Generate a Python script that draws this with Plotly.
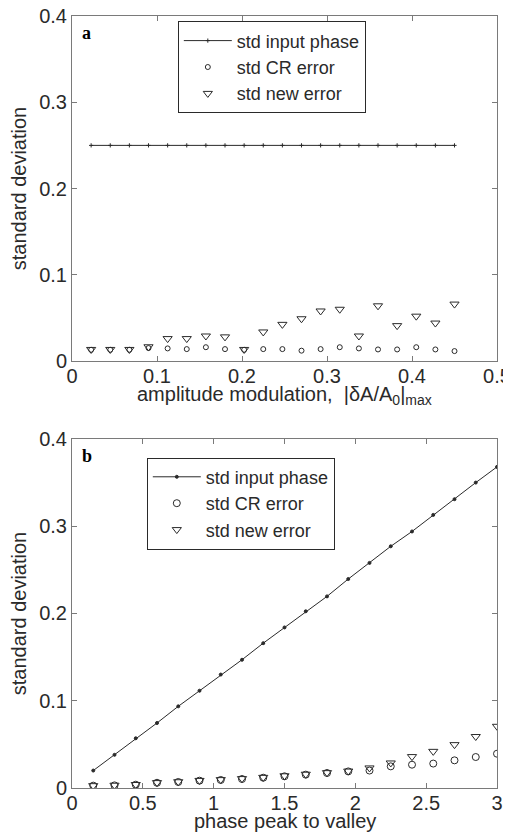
import plotly.graph_objects as go
from plotly.subplots import make_subplots

# panel a: amplitude modulation sweep
amp_x = [0.0225, 0.045, 0.0675, 0.09, 0.1125, 0.135, 0.1575, 0.18, 0.2025, 0.225,
         0.2475, 0.27, 0.2925, 0.315, 0.3375, 0.36, 0.3825, 0.405, 0.4275, 0.45]
amp_input = [0.25, 0.25, 0.25, 0.25, 0.25, 0.25, 0.25, 0.25, 0.25, 0.25,
             0.25, 0.25, 0.25, 0.25, 0.25, 0.25, 0.25, 0.25, 0.25, 0.25]
amp_cr = [0.013, 0.013, 0.013, 0.015, 0.0146, 0.0138, 0.016, 0.0138, 0.013, 0.0138,
          0.0138, 0.012, 0.0138, 0.016, 0.0146, 0.0134, 0.0134, 0.016, 0.0134, 0.0115]
amp_new = [0.0134, 0.0134, 0.0134, 0.0165, 0.026, 0.026, 0.029, 0.028, 0.0134, 0.0337,
           0.0425, 0.049, 0.058, 0.060, 0.029, 0.064, 0.041, 0.052, 0.044, 0.066]

# panel b: phase peak-to-valley sweep
phase_x = [0.15, 0.3, 0.45, 0.6, 0.75, 0.9, 1.05, 1.2, 1.35, 1.5,
           1.65, 1.8, 1.95, 2.1, 2.25, 2.4, 2.55, 2.7, 2.85, 3.0]
phase_input = [0.020, 0.038, 0.057, 0.0745, 0.0936, 0.1115, 0.130, 0.147, 0.166, 0.184,
               0.2025, 0.2196, 0.2395, 0.258, 0.277, 0.294, 0.313, 0.331, 0.350, 0.368]
phase_cr = [0.0027, 0.003, 0.0038, 0.006, 0.0069, 0.0084, 0.0092, 0.0103, 0.0118, 0.0134,
            0.0153, 0.0172, 0.019, 0.020, 0.0248, 0.0267, 0.028, 0.0317, 0.0355, 0.0393]
phase_new = [0.0027, 0.0032, 0.004, 0.0062, 0.0072, 0.0087, 0.0096, 0.0108, 0.0122, 0.0140,
             0.0158, 0.0176, 0.0194, 0.023, 0.0287, 0.036, 0.042, 0.0497, 0.059, 0.0707]

series_names = ["std input phase", "std CR error", "std new error"]

INK = "#2a2a2a"
AXIS = "#7a7a7a"
FONT = "Liberation Sans, Arial, sans-serif"

fig = make_subplots(rows=2, cols=1)


def add_panel(row, x, inp, cr, new, legend, circle_size, input_symbol):
    fig.add_trace(go.Scatter(
        x=x, y=inp, name=series_names[0], mode="lines+markers", legend=legend,
        line=dict(color=INK, width=1),
        marker=dict(symbol=input_symbol, size=3, color=INK, line=dict(color=INK, width=1)),
    ), row=row, col=1)
    fig.add_trace(go.Scatter(
        x=x, y=cr, name=series_names[1], mode="markers", legend=legend,
        marker=dict(symbol="circle-open", size=circle_size, color=INK, line=dict(width=1)),
    ), row=row, col=1)
    fig.add_trace(go.Scatter(
        x=x, y=new, name=series_names[2], mode="markers", legend=legend,
        marker=dict(symbol="triangle-down-open", size=8, color=INK, line=dict(width=1)),
    ), row=row, col=1)


add_panel(1, amp_x, amp_input, amp_cr, amp_new, "legend", 5, "cross-thin")
add_panel(2, phase_x, phase_input, phase_cr, phase_new, "legend2", 7, "circle")

axis_style = dict(
    showline=True, mirror="ticks", linecolor=AXIS, linewidth=1,
    ticks="inside", ticklen=5, tickcolor=AXIS,
    showgrid=False, zeroline=False, automargin=False,
    ticklabeloverflow="allow",
    tickfont=dict(size=20, color=INK, family=FONT),
    title_font=dict(size=20, color=INK, family=FONT),
)

fig.update_xaxes(**axis_style)
fig.update_yaxes(**axis_style)

fig.update_xaxes(range=[0, 0.5], tickvals=[0, 0.1, 0.2, 0.3, 0.4, 0.5],
                 ticktext=["0", "0.1", "0.2", "0.3", "0.4", "0.5"],
                 ticklabelstandoff=-3, row=1, col=1)
fig.update_xaxes(range=[0, 3], tickvals=[0, 0.5, 1, 1.5, 2, 2.5, 3],
                 ticktext=["0", "0.5", "1", "1.5", "2", "2.5", "3"],
                 ticklabelstandoff=-3, row=2, col=1)
fig.update_yaxes(range=[0, 0.4], tickvals=[0, 0.1, 0.2, 0.3, 0.4],
                 ticktext=["0", "0.1", "0.2", "0.3", "0.4"],
                 title_text="standard deviation", title_standoff=8)

# the page body adds an 8px offset, so the figure is 8px smaller than the window
fig.update_layout(
    width=503, height=826,
    margin=dict(l=64, r=14, t=8, b=46),
    paper_bgcolor="white", plot_bgcolor="white",
    font=dict(family=FONT, size=20, color=INK),
    xaxis=dict(domain=[0, 1]), yaxis=dict(domain=[0.5531, 1]),
    xaxis2=dict(domain=[0, 1]), yaxis2=dict(domain=[0, 0.4521]),
    legend=dict(x=0.249, y=0.993, xanchor="left", yanchor="top",
                bordercolor=INK, borderwidth=1, bgcolor="white",
                font=dict(size=18, color=INK, family=FONT),
                itemwidth=48, tracegroupgap=0),
    legend2=dict(x=0.176, y=0.428, xanchor="left", yanchor="top",
                 bordercolor=INK, borderwidth=1, bgcolor="white",
                 font=dict(size=18, color=INK, family=FONT),
                 itemwidth=48, tracegroupgap=0),
    showlegend=True,
)

# x-axis titles sit close under the tick labels, as in the original
x_titles = [("x domain", "y domain", "amplitude modulation,  |δA/A<sub>0</sub>|<sub>max</sub>"),
            ("x2 domain", "y2 domain", "phase peak to valley")]
for xr, yr, txt in x_titles:
    fig.add_annotation(text=txt, xref=xr, yref=yr, x=0.5, y=0, xanchor="center",
                       yanchor="top", yshift=-20, showarrow=False,
                       font=dict(size=20, color=INK, family=FONT))

# panel letters
for letter, xr, yr in (("a", "x domain", "y domain"), ("b", "x2 domain", "y2 domain")):
    fig.add_annotation(text="<b>%s</b>" % letter, xref=xr, yref=yr, x=0.018, y=0.985,
                       xanchor="left", yanchor="top", showarrow=False,
                       font=dict(family="Liberation Serif, Times New Roman, serif",
                                 size=18, color="black"))

fig.write_html("out.html")
